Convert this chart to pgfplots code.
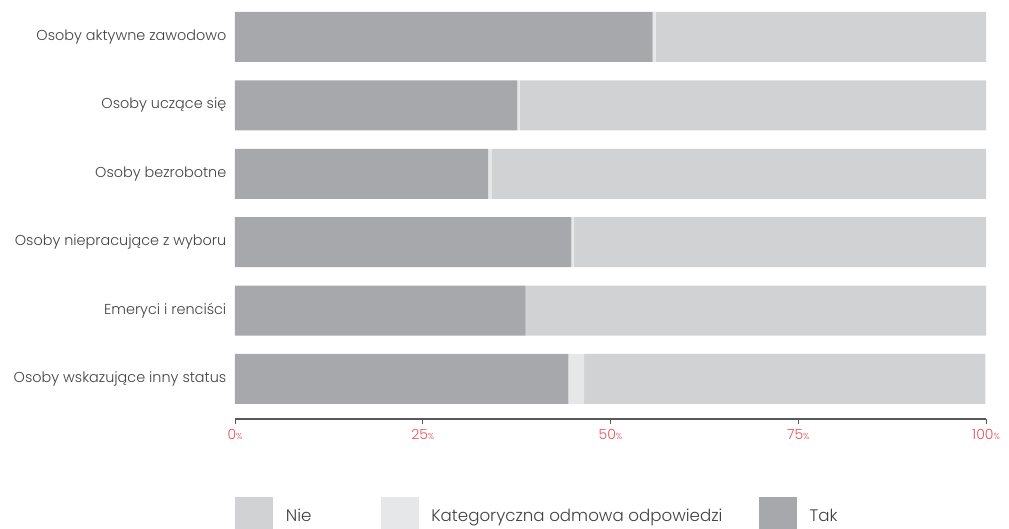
\documentclass[border=0pt]{standalone}
\usepackage{fontspec}
\setmainfont{Poppins Light}
\usepackage{pgfplots}
\pgfplotsset{compat=1.18}
\definecolor{tak}{HTML}{A7A8AB}
\definecolor{odm}{HTML}{E6E7E8}
\definecolor{nie}{HTML}{D1D2D4}
\definecolor{txt}{HTML}{414042}
\definecolor{tickred}{HTML}{E8515D}
\definecolor{axl}{HTML}{58595B}
\pgfplotsset{sqlegend/.style={legend image code/.code={\fill[##1] (0pt,-14pt) rectangle (28.5pt,14pt);}}}
\begin{document}
\begin{tikzpicture}
\begin{axis}[
  scale only axis,
  width=563.25pt, height=312.2pt,
  xbar stacked,
  bar width=37.5pt,
  xmin=0, xmax=100,
  ymin=-0.585, ymax=5.5,
  axis x line*=bottom, axis y line*=left,
  y axis line style={draw=none},
  x axis line style={draw=axl, line width=0.9pt},
  xtick={0,25,50,75,100},
  xtick pos=bottom,
  xtick align=outside,
  major tick length=4pt,
  xtick style={draw=axl, line width=0.6pt},
  ytick={0,1,2,3,4,5},
  ytick style={draw=none},
  yticklabels={Osoby wskazujące inny status, Emeryci i renciści, Osoby niepracujące z wyboru, Osoby bezrobotne, Osoby uczące się, Osoby aktywne zawodowo},
  yticklabel style={font=\fontsize{10.8pt}{13pt}\selectfont, text=txt, xshift=-3pt},
  /pgf/number format/assume math mode=true,
  xticklabel={\pgfmathprintnumber{\tick}{\fontsize{6.5pt}{7pt}\selectfont\%}},
  xticklabel style={font=\fontsize{10.5pt}{12pt}\selectfont, text=tickred, yshift=-0.5pt},
  legend columns=3,
  legend style={at={(rel axis cs:0,0)}, anchor=north west, yshift=-58.5pt, draw=none, fill=none, inner sep=0pt,
    font=\fontsize{12.5pt}{14pt}\selectfont, text=txt,
    /tikz/every odd column/.append style={column sep=7.5pt},
    /tikz/every even column/.append style={column sep=0pt}},
  legend cell align=left,
]
\addplot[fill=tak, draw=none, forget plot] coordinates {(44.4,0) (38.7,1) (44.8,2) (33.7,3) (37.6,4) (55.6,5)};
\addplot[fill=odm, draw=none, forget plot] coordinates {(2.1,0) (0,1) (0.3,2) (0.5,3) (0.3,4) (0.4,5)};
\addplot[fill=nie, draw=none, forget plot] coordinates {(53.4,0) (61.3,1) (54.9,2) (65.8,3) (62.1,4) (44.0,5)};
\addlegendimage{sqlegend, fill=nie, draw=none}
\addlegendentry{\makebox[69pt][l]{Nie}}
\addlegendimage{sqlegend, fill=odm, draw=none}
\addlegendentry{\makebox[243.75pt][l]{Kategoryczna odmowa odpowiedzi}}
\addlegendimage{sqlegend, fill=tak, draw=none}
\addlegendentry{Tak}
\coordinate (sw) at (rel axis cs:0,0);
\end{axis}
\pgfresetboundingbox
\path (sw) ++(-176.25pt,-81.75pt) rectangle ++(756.75pt,396pt);
\end{tikzpicture}
\end{document}
